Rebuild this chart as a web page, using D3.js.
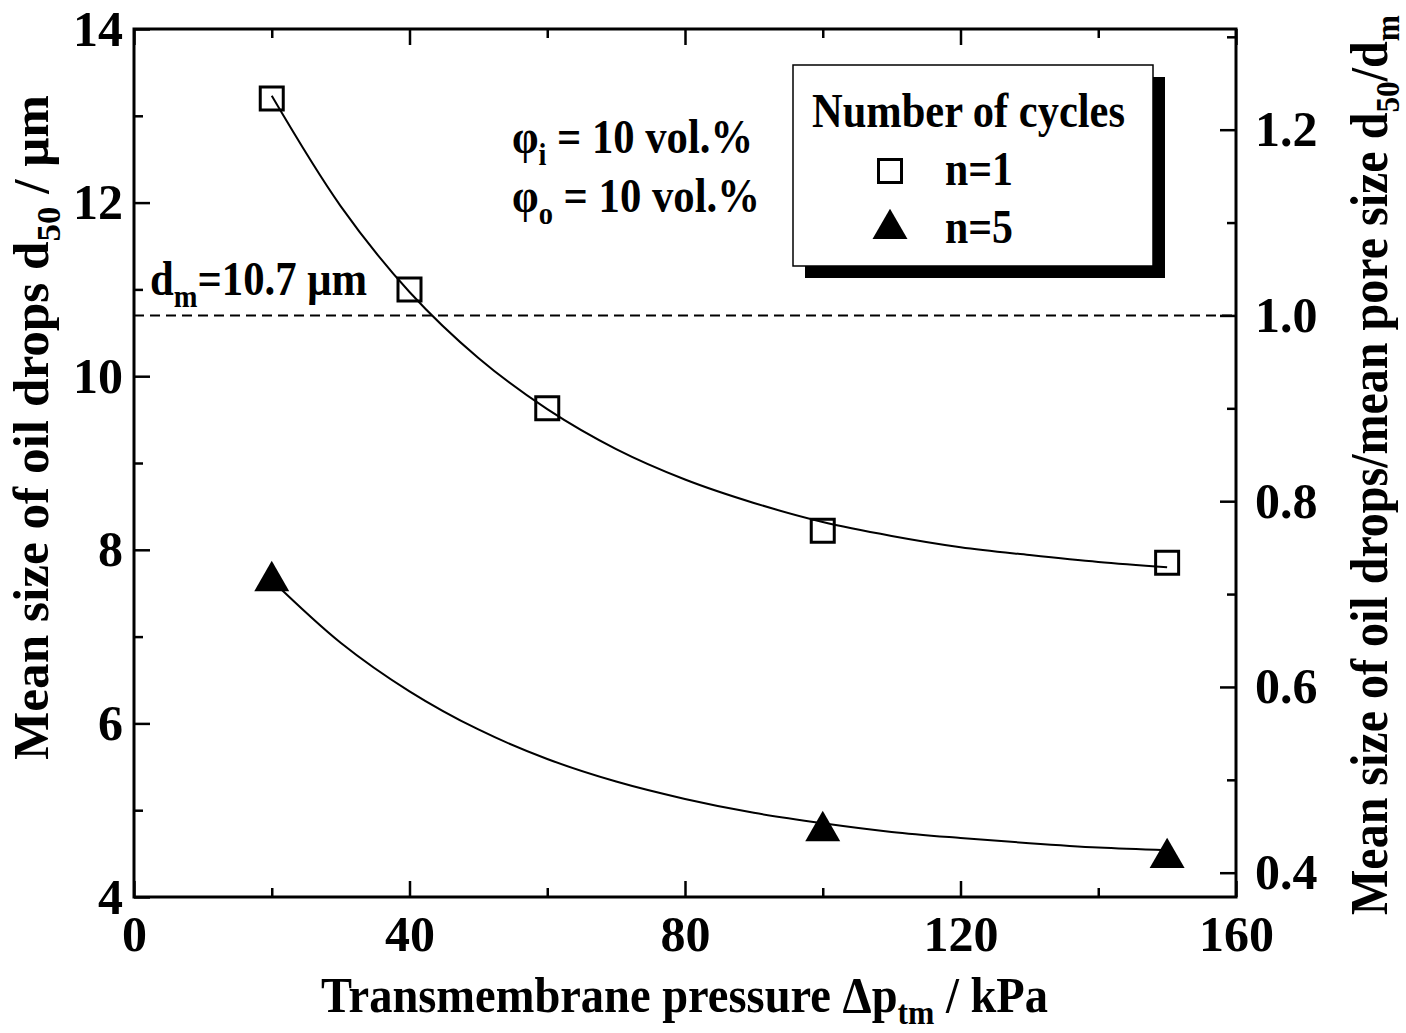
<!DOCTYPE html>
<html>
<head>
<meta charset="utf-8">
<script src="https://cdn.jsdelivr.net/npm/d3@7"></script>
<style>
  body { margin: 0; background: #fff; }
  text { font-family: "Liberation Serif", "Times New Roman", serif; font-weight: bold; fill: #000; }
</style>
</head>
<body>
<div id="chart"></div>
<script>
// measured points (pressure in kPa, d50 in um)
const n1Pressure = [20, 40, 60, 100, 150];
const n1Size = [13.2, 11.0, 9.63, 8.22, 7.85];
const n5Pressure = [20, 100, 150];
const n5Size = [7.64, 4.76, 4.45];

// fitted curves
const fitPressure = [20, 30, 40, 50, 60, 70, 80, 90, 100, 110, 120, 130, 140, 150];
const n1Fit = [13.23, 11.96, 10.97, 10.21, 9.62, 9.16, 8.81, 8.54, 8.32, 8.16, 8.03, 7.94, 7.86, 7.80];
const n5Fit = [7.65, 6.93, 6.37, 5.93, 5.59, 5.33, 5.13, 4.97, 4.85, 4.75, 4.68, 4.62, 4.57, 4.54];

const poreSize = 10.7;
const xMajor = [0, 40, 80, 120, 160];
const xMinor = [20, 60, 100, 140];
const yMajor = [4, 6, 8, 10, 12, 14];
const yMinor = [5, 7, 9, 11, 13];
const rMajor = [0.4, 0.6, 0.8, 1.0, 1.2];
const rMinor = [0.5, 0.7, 0.9, 1.1, 1.3];

const W = 1406, H = 1033;
const plot = { left: 134, right: 1236, top: 29, bottom: 897 };

const svg = d3.select("#chart").append("svg")
    .attr("width", W)
    .attr("height", H);

const x = d3.scaleLinear().domain([0, 160]).range([plot.left, plot.right]);
const y = d3.scaleLinear().domain([4, 14]).range([plot.bottom, plot.top]);
const yr = d3.scaleLinear().domain([4 / poreSize, 14 / poreSize]).range([plot.bottom, plot.top]);

const MAJ = 16, MIN = 9;

function styleAxis(g) {
    g.select(".domain").remove();
    g.selectAll(".tick line").attr("stroke", "#000").attr("stroke-width", 2.5);
    g.selectAll(".tick text").style("font-size", "50px").attr("fill", "#000");
}

// bottom
svg.append("g").attr("transform", `translate(0,${plot.bottom})`)
    .call(d3.axisBottom(x).tickValues(xMajor).tickSize(-MAJ).tickPadding(18).tickFormat(d3.format("d")))
    .call(styleAxis);
svg.append("g").attr("transform", `translate(0,${plot.bottom})`)
    .call(d3.axisBottom(x).tickValues(xMinor).tickSize(-MIN).tickFormat(""))
    .call(styleAxis);
// top
svg.append("g").attr("transform", `translate(0,${plot.top})`)
    .call(d3.axisTop(x).tickValues(xMajor).tickSize(-MAJ).tickFormat(""))
    .call(styleAxis);
svg.append("g").attr("transform", `translate(0,${plot.top})`)
    .call(d3.axisTop(x).tickValues(xMinor).tickSize(-MIN).tickFormat(""))
    .call(styleAxis);
// left
svg.append("g").attr("transform", `translate(${plot.left},0)`)
    .call(d3.axisLeft(y).tickValues(yMajor).tickSize(-MAJ).tickPadding(11).tickFormat(d3.format("d")))
    .call(styleAxis);
svg.append("g").attr("transform", `translate(${plot.left},0)`)
    .call(d3.axisLeft(y).tickValues(yMinor).tickSize(-MIN).tickFormat(""))
    .call(styleAxis);
// right
svg.append("g").attr("transform", `translate(${plot.right},0)`)
    .call(d3.axisRight(yr).tickValues(rMajor).tickSize(-MAJ).tickPadding(19).tickFormat(d3.format(".1f")))
    .call(styleAxis);
svg.append("g").attr("transform", `translate(${plot.right},0)`)
    .call(d3.axisRight(yr).tickValues(rMinor).tickSize(-MIN).tickFormat(""))
    .call(styleAxis);

// frame
svg.append("rect")
    .attr("x", plot.left).attr("y", plot.top)
    .attr("width", plot.right - plot.left).attr("height", plot.bottom - plot.top)
    .attr("fill", "none").attr("stroke", "#000").attr("stroke-width", 3);

// pore size line
svg.append("line")
    .attr("x1", x(0)).attr("x2", x(160))
    .attr("y1", y(poreSize)).attr("y2", y(poreSize))
    .attr("stroke", "#000").attr("stroke-width", 2)
    .attr("stroke-dasharray", "10,6");

// fitted curves
const line = d3.line()
    .x(d => x(d[0]))
    .y(d => y(d[1]))
    .curve(d3.curveCatmullRom);

[n1Fit, n5Fit].forEach(vals => {
    svg.append("path")
        .datum(fitPressure.map((p, i) => [p, vals[i]]))
        .attr("d", line)
        .attr("fill", "none")
        .attr("stroke", "#000")
        .attr("stroke-width", 2);
});

// markers
const square = d3.symbol().type(d3.symbolSquare).size(23 * 23);
const triangle = d3.symbol().type(d3.symbolTriangle).size(530);

svg.selectAll(".sq")
    .data(n1Pressure.map((p, i) => [p, n1Size[i]]))
    .enter().append("path")
    .attr("class", "sq")
    .attr("d", square)
    .attr("transform", d => `translate(${x(d[0])},${y(d[1])})`)
    .attr("fill", "none")
    .attr("stroke", "#000")
    .attr("stroke-width", 3);

svg.selectAll(".tri")
    .data(n5Pressure.map((p, i) => [p, n5Size[i]]))
    .enter().append("path")
    .attr("class", "tri")
    .attr("d", triangle)
    .attr("transform", d => `translate(${x(d[0])},${y(d[1])})`)
    .attr("fill", "#000");

// helper for text with a subscript part
function label(parent, parts, attrs) {
    const t = parent.append("text");
    Object.entries(attrs).forEach(([k, v]) => t.attr(k, v));
    parts.forEach(p => {
        const s = t.append("tspan").text(p.t);
        if (p.sub) s.style("font-size", p.sub + "px").attr("dy", p.dy);
        if (p.back) s.attr("dy", p.back);
    });
    return t;
}

// axis titles
label(svg, [
    { t: "Transmembrane pressure Δp" },
    { t: "tm", sub: 34, dy: 12 },
    { t: " / kPa", back: -12 }
], { x: 321, y: 1012, "font-size": 50, textLength: 727, lengthAdjust: "spacingAndGlyphs" });

label(svg, [
    { t: "Mean size of oil drops d" },
    { t: "50", sub: 34, dy: 12 },
    { t: " / μm", back: -12 }
], { transform: "translate(48,760) rotate(-90)", "font-size": 50, textLength: 665, lengthAdjust: "spacingAndGlyphs" });

label(svg, [
    { t: "Mean size of oil drops/mean pore size d" },
    { t: "50", sub: 34, dy: 12 },
    { t: "/d", back: -12 },
    { t: "m", sub: 34, dy: 12 }
], { transform: "translate(1387,915) rotate(-90)", "font-size": 52, textLength: 900, lengthAdjust: "spacingAndGlyphs" });

// annotations
label(svg, [
    { t: "φ" },
    { t: "i", sub: 32, dy: 12 },
    { t: " = 10 vol.%", back: -12 }
], { x: 512, y: 153, "font-size": 48, textLength: 241, lengthAdjust: "spacingAndGlyphs" });

label(svg, [
    { t: "φ" },
    { t: "o", sub: 32, dy: 12 },
    { t: " = 10 vol.%", back: -12 }
], { x: 512, y: 212, "font-size": 48, textLength: 248, lengthAdjust: "spacingAndGlyphs" });

label(svg, [
    { t: "d" },
    { t: "m", sub: 32, dy: 12 },
    { t: "=10.7 μm", back: -12 }
], { x: 150, y: 295, "font-size": 48, textLength: 217, lengthAdjust: "spacingAndGlyphs" });

// legend
const legend = svg.append("g");
legend.append("rect")
    .attr("x", 805).attr("y", 77).attr("width", 360).attr("height", 201)
    .attr("fill", "#000");
legend.append("rect")
    .attr("x", 793).attr("y", 65).attr("width", 360).attr("height", 201)
    .attr("fill", "#fff").attr("stroke", "#000").attr("stroke-width", 1.5);

legend.append("text")
    .attr("x", 812).attr("y", 127)
    .attr("font-size", 48)
    .attr("textLength", 313).attr("lengthAdjust", "spacingAndGlyphs")
    .text("Number of cycles");

legend.append("path")
    .attr("d", square)
    .attr("transform", "translate(890,171)")
    .attr("fill", "none").attr("stroke", "#000").attr("stroke-width", 3);
legend.append("text")
    .attr("x", 945).attr("y", 185)
    .attr("font-size", 48)
    .attr("textLength", 68).attr("lengthAdjust", "spacingAndGlyphs")
    .text("n=1");

legend.append("path")
    .attr("d", triangle)
    .attr("transform", "translate(890,229)")
    .attr("fill", "#000");
legend.append("text")
    .attr("x", 945).attr("y", 243)
    .attr("font-size", 48)
    .attr("textLength", 68).attr("lengthAdjust", "spacingAndGlyphs")
    .text("n=5");
</script>
</body>
</html>
